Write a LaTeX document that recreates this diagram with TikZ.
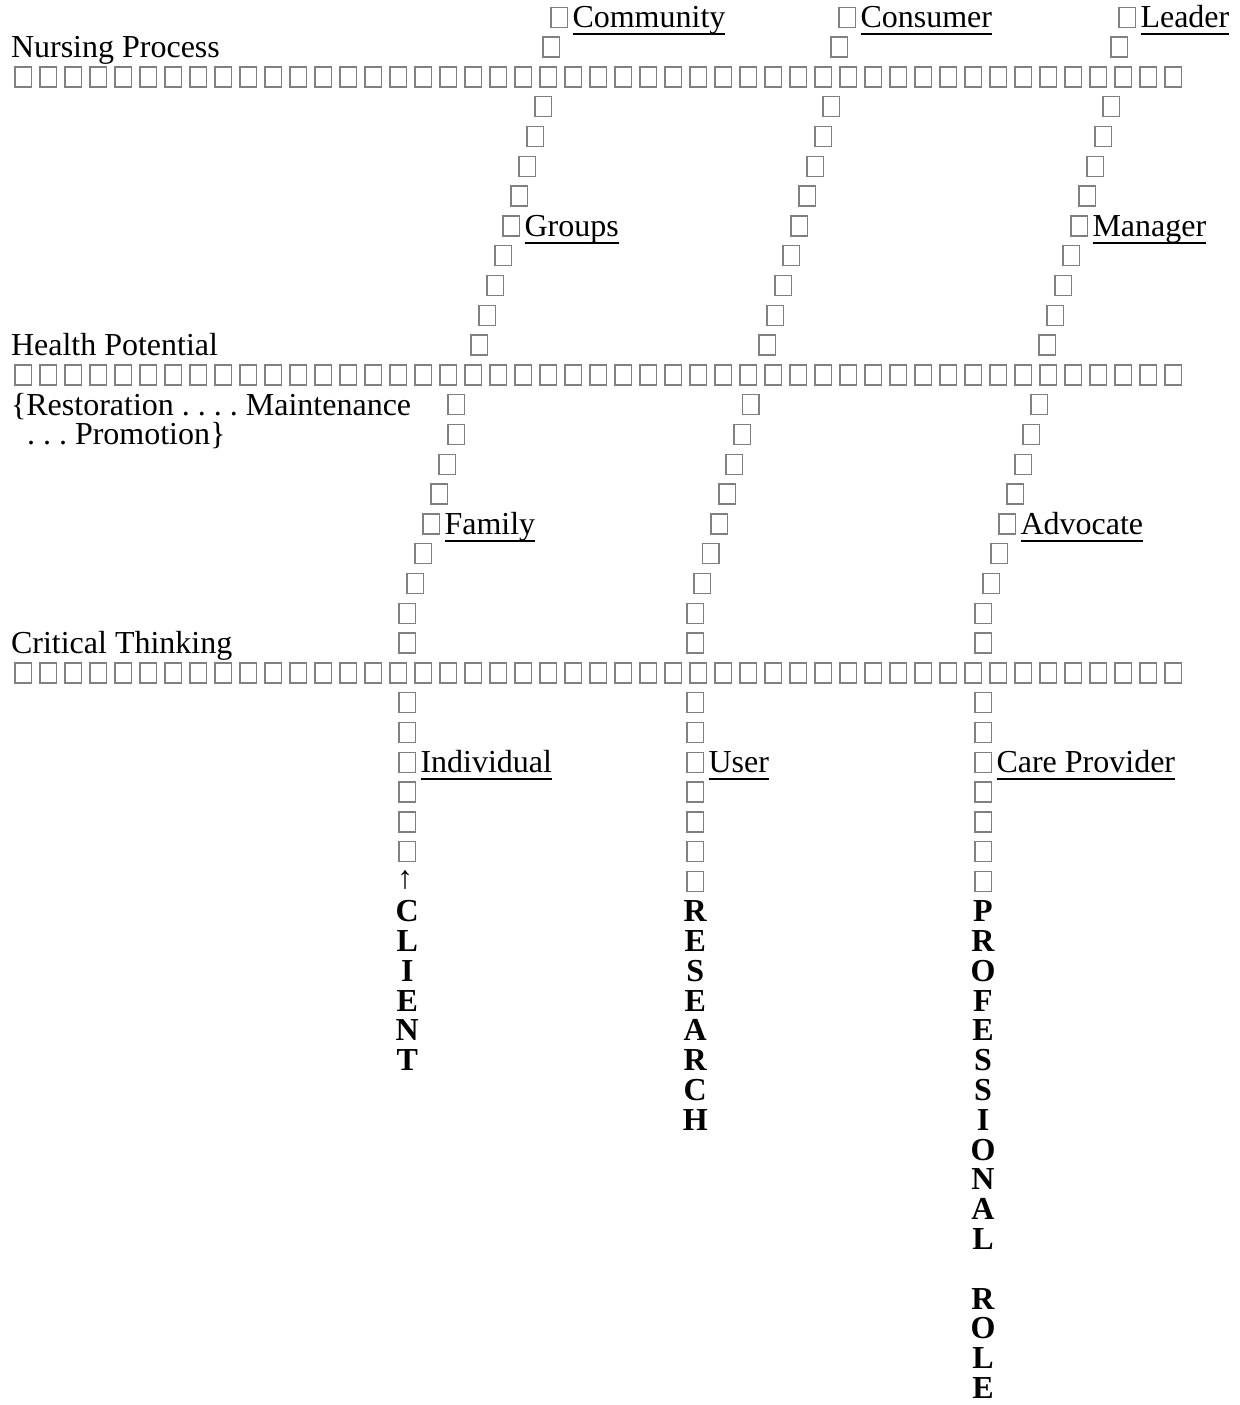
\documentclass[tikz,border=0pt]{standalone}
\usepackage{fontspec}
\setmainfont{Liberation Serif}
\definecolor{boxgray}{RGB}{128,128,128}
\begin{document}
\frenchspacing
\begin{tikzpicture}[x=0.5pt,y=-0.5pt,
  declare function={lc(\n)=76.8+(\n-3)*29.8;},
  every node/.style={inner sep=0pt, outer sep=0pt, font=\fontsize{16pt}{18pt}\selectfont},
  gbox/.style={draw=boxgray, line width=0.7pt, minimum width=8.25pt, minimum height=10pt, anchor=north west},
  lbl/.style={anchor=base west},
  vlet/.style={anchor=base, font=\fontsize{16pt}{18pt}\selectfont\bfseries},
  uline/.style={line width=0.95pt}]
\useasboundingbox (0,0) rectangle (1240,1405);

% horizontal rows of boxes
\foreach \r in {3,13,23} {
  \foreach \k in {0,...,46} {
    \node[gbox] (row\r-\k) at ({15+25*\k},{lc(\r)-10}) {};
  }
}

% slanted columns of boxes
\foreach \l/\x in {1/551,2/543,4/535,5/527,6/519,7/511,8/503,9/495,10/487,11/479,12/471,
  14/448,15/448,16/439,17/431,18/423,19/415,20/407,21/399,22/399,
  24/399,25/399,26/399,27/399,28/399,29/399} {
  \node[gbox] (ca\l) at (\x,{lc(\l)-10}) {};
}
\foreach \l/\x in {1/839,2/831,4/823,5/815,6/807,7/799,8/791,9/783,10/775,11/767,12/759,
  14/742.5,15/734,16/726,17/719,18/711,19/702.5,20/694,21/687,22/687,
  24/687,25/687,26/687,27/687,28/687,29/687,30/687} {
  \node[gbox] (cb\l) at (\x,{lc(\l)-10}) {};
}
\foreach \l/\x in {1/1119,2/1111,4/1103,5/1095,6/1087,7/1079,8/1071,9/1063,10/1055,11/1047,12/1039,
  14/1031,15/1023,16/1015,17/1007,18/999,19/991,20/983,21/975,22/975,
  24/975,25/975,26/975,27/975,28/975,29/975,30/975} {
  \node[gbox] (cc\l) at (\x,{lc(\l)-10}) {};
}

% left-hand labels
\node[lbl] (tNP)   at (11,{lc(2)+10.5})  {Nursing Process};
\node[lbl] (tHP)   at (11,{lc(12)+10.5}) {Health Potential};
\node[lbl] (tRest) at (11,{lc(14)+10.5}) {\{Restoration . . . . Maintenance};
\node[lbl] (tProm) at (27,{lc(15)+10.5}) {. . . Promotion\}};
\node[lbl] (tCT)   at (11,{lc(22)+10.5}) {Critical Thinking};

% underlined labels
\node[lbl] (tComm)  at (572.5,{lc(1)+10.5})  {Community};
\node[lbl] (tCons)  at (860.5,{lc(1)+10.5})  {Consumer};
\node[lbl] (tLead)  at (1140.5,{lc(1)+10.5}) {Leader};
\node[lbl] (tGrp)   at (524.5,{lc(8)+10.5})  {Groups};
\node[lbl] (tMgr)   at (1092.5,{lc(8)+10.5}) {Manager};
\node[lbl] (tFam)   at (444.5,{lc(18)+10.5}) {Family};
\node[lbl] (tAdv)   at (1020.5,{lc(18)+10.5}) {Advocate};
\node[lbl] (tInd)   at (420.5,{lc(26)+10.5}) {Individual};
\node[lbl] (tUser)  at (708.5,{lc(26)+10.5}) {User};
\node[lbl] (tCare)  at (996.5,{lc(26)+10.5}) {Care Provider};
\foreach \t in {tComm,tCons,tLead,tGrp,tMgr,tFam,tAdv,tInd,tUser,tCare} {
  \draw[uline] ([yshift=-3.2pt]\t.base west) -- ([yshift=-3.2pt]\t.base east);
}

% arrow and vertical words
\node[font=\fontsize{16pt}{18pt}\selectfont\bfseries] (arrA) at (405,{lc(30)-1}) {↑};
\foreach \ch [count=\i from 31] in {C,L,I,E,N,T} {
  \node[vlet] (cl\i) at (407.25,{lc(\i)+10.5}) {\ch};
}
\foreach \ch [count=\i from 31] in {R,E,S,E,A,R,C,H} {
  \node[vlet] (rs\i) at (695.25,{lc(\i)+10.5}) {\ch};
}
\foreach \ch [count=\i from 31] in {P,R,O,F,E,S,S,I,O,N,A,L} {
  \node[vlet] (pr\i) at (983,{lc(\i)+10.5}) {\ch};
}
\foreach \ch [count=\i from 44] in {R,O,L,E} {
  \node[vlet] (ro\i) at (983,{lc(\i)+10.5}) {\ch};
}
\end{tikzpicture}
\end{document}
